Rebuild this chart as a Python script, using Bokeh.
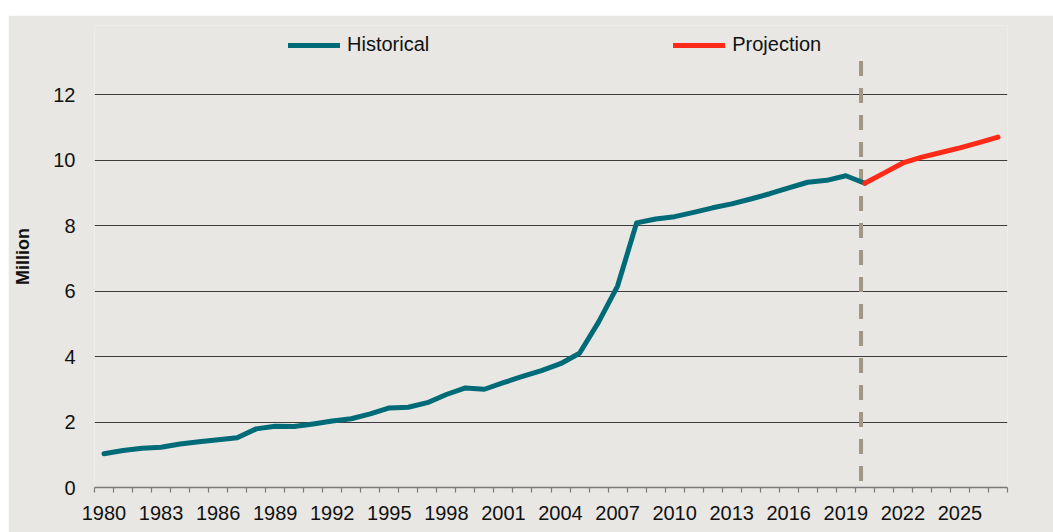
from bokeh.plotting import figure
from bokeh.models import Range1d, FixedTicker, Legend, LegendItem, Spacer
from bokeh.layouts import column, row
from bokeh.embed import file_html
from bokeh.resources import INLINE

# ---- data ----
hist_years = list(range(1980, 2021))
hist_values = [1.03, 1.13, 1.20, 1.23, 1.33, 1.40, 1.46, 1.52, 1.79, 1.87,
               1.86, 1.94, 2.03, 2.10, 2.25, 2.43, 2.45, 2.59, 2.84, 3.04,
               3.00, 3.20, 3.39, 3.57, 3.78, 4.10, 5.05, 6.15, 8.08, 8.20,
               8.27, 8.40, 8.54, 8.66, 8.81, 8.97, 9.15, 9.32, 9.38, 9.52,
               9.29]
proj_years = list(range(2020, 2028))
proj_values = [9.29, 9.60, 9.91, 10.09, 10.23, 10.37, 10.53, 10.70]
x_tick_labels = list(range(1980, 2026, 3))
y_ticks = [0, 2, 4, 6, 8, 10, 12]
divider_year = 2019.8

BG = "#E8E7E3"
TEAL = "#006B78"
RED = "#FF2A17"
DASH = "#A09785"
FONT = "Liberation Sans"

p = figure(width=1045, height=517, output_backend="svg", toolbar_location=None,
           x_range=Range1d(1979.5, 2027.5), y_range=Range1d(0, 14.107),
           min_border_left=86, min_border_right=46, min_border_top=10,
           min_border_bottom=45,
           background_fill_color=BG, border_fill_color=BG, outline_line_color=None)

# axes
p.xaxis.ticker = FixedTicker(ticks=x_tick_labels,
                             minor_ticks=[y - 0.5 for y in range(1980, 2029)])
p.xaxis.axis_line_color = "#7a7a7a"
p.xaxis.axis_line_width = 1.5
p.xaxis.major_tick_line_color = None
p.xaxis.major_tick_out = 0
p.xaxis.major_tick_in = 0
p.xaxis.minor_tick_line_color = "#7a7a7a"
p.xaxis.minor_tick_line_width = 1.2
p.xaxis.minor_tick_out = 5
p.xaxis.minor_tick_in = 0
p.xaxis.major_label_standoff = 13
p.xaxis.major_label_text_font = FONT
p.xaxis.major_label_text_font_size = "20px"
p.xaxis.major_label_text_color = "#111111"

p.yaxis.ticker = FixedTicker(ticks=y_ticks)
p.yaxis.axis_line_color = None
p.yaxis.major_tick_line_color = None
p.yaxis.minor_tick_line_color = None
p.yaxis.major_tick_out = 0
p.yaxis.major_tick_in = 0
p.yaxis.major_label_standoff = 19
p.yaxis.major_label_text_font = FONT
p.yaxis.major_label_text_font_size = "20px"
p.yaxis.major_label_text_color = "#111111"
p.yaxis.axis_label = "Million"
p.yaxis.axis_label_text_font = FONT
p.yaxis.axis_label_text_font_size = "18px"
p.yaxis.axis_label_text_font_style = "bold"
p.yaxis.axis_label_text_color = "#111111"
p.yaxis.axis_label_standoff = 17

p.xgrid.grid_line_color = None
p.ygrid.ticker = FixedTicker(ticks=y_ticks[1:])
p.ygrid.grid_line_color = "#3c3c3c"
p.ygrid.grid_line_width = 1

# divider
p.segment(x0=[divider_year], y0=[13.02], x1=[divider_year], y1=[0.1],
          line_color=DASH, line_width=4, line_dash="15 12")

r_hist = p.line(hist_years, hist_values, line_color=TEAL, line_width=5,
                line_cap="round", line_join="round")
r_proj = p.line(proj_years, proj_values, line_color=RED, line_width=5,
                line_cap="round", line_join="round")

legend = Legend(items=[LegendItem(label="Historical", renderers=[r_hist]),
                       LegendItem(label="Projection", renderers=[r_proj])],
                orientation="horizontal", location=(194, 431),
                glyph_width=52, glyph_height=20, label_height=20,
                label_standoff=7, spacing=244, padding=0, margin=0,
                background_fill_alpha=0, border_line_color=None,
                label_text_font=FONT, label_text_font_size="20px",
                label_text_color="#111111")
p.add_layout(legend)

layout = column(Spacer(width=1053, height=15), row(Spacer(width=8, height=517), p))
open("out.html", "w").write(file_html(layout, INLINE))
